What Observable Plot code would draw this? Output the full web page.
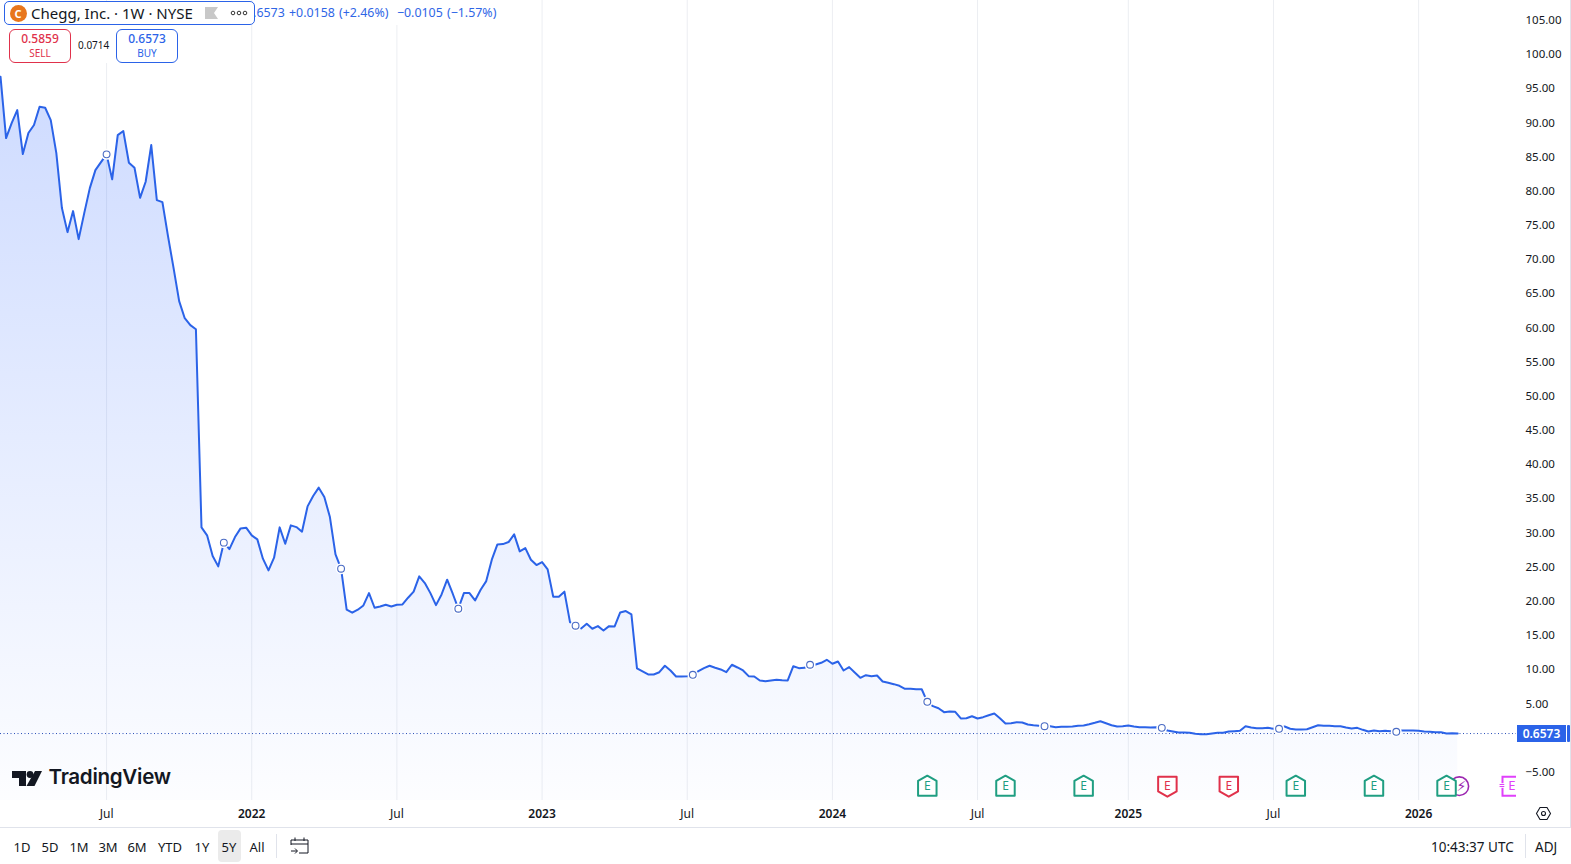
<!DOCTYPE html>
<html>
<head>
<meta charset="utf-8">
<title>Chegg, Inc. 1W NYSE</title>
<script src="https://cdn.jsdelivr.net/npm/d3@7"></script>
<script src="https://cdn.jsdelivr.net/npm/@observablehq/plot@0.6"></script>
<style>
  html,body{margin:0;padding:0;background:#fff;overflow:hidden;}
  body{width:1571px;height:864px;position:relative;font-family:"Noto Sans",sans-serif;color:#131722;}
  #chart{position:absolute;left:0;top:0;}
  .abs{position:absolute;white-space:nowrap;}
  .box{position:absolute;box-sizing:border-box;background:#fff;text-align:center;border-radius:6px;border:1px solid;}
  .box b{display:block;font-weight:500;font-size:12px;line-height:13px;margin-top:2px;}
  .box span{display:block;font-size:10px;line-height:12px;margin-top:2px;}
  .tool{position:absolute;top:837px;font-size:13px;line-height:20px;transform:translateX(-50%);color:#131722;}
</style>
</head>
<body>
<div id="chart"></div>
<div class="abs" style="left:255px;top:0;width:245px;height:25px;background:#fff"></div>
<div class="abs" style="left:0;top:25px;width:180px;height:38px;background:#fff"></div>
<div class="abs" id="quote" style="left:246px;top:4px;font-size:12.4px;line-height:18px;color:#2f66e6;word-spacing:1px">0.6573 +0.0158 (+2.46%)&nbsp; −0.0105 (−1.57%)</div>
<div class="abs" style="left:4px;top:1px;width:251px;height:24px;box-sizing:border-box;background:#fff;border:1px solid #2b63e8;border-radius:5px"></div>
<div class="abs" style="left:9.5px;top:4.5px;width:17px;height:17px;border-radius:50%;background:#e8761c;color:#fff;font-size:11px;font-weight:700;line-height:17px;text-align:center">C</div>
<div class="abs" id="name" style="left:31px;top:3px;font-size:15px;line-height:21px">Chegg, Inc. · 1W · NYSE</div>
<svg class="abs" style="left:204px;top:6px" width="46" height="14">
  <path d="M1 1H14L10 7L14 13H1Z" fill="#c8c8c8"/>
  <circle cx="29" cy="7" r="1.8" fill="none" stroke="#333"/><circle cx="35" cy="7" r="1.8" fill="none" stroke="#333"/><circle cx="41" cy="7" r="1.8" fill="none" stroke="#333"/>
</svg>
<div class="box" style="left:9px;top:29px;width:62px;height:34px;border-color:#e0314b;color:#e0314b"><b>0.5859</b><span>SELL</span></div>
<div class="abs" style="left:78px;top:38px;font-size:10px;line-height:15px">0.0714</div>
<div class="box" style="left:116px;top:29px;width:62px;height:34px;border-color:#2b63e8;color:#2b63e8"><b>0.6573</b><span>BUY</span></div>

<svg class="abs" style="left:12px;top:770px" width="31" height="17" viewBox="0 0 31 17">
  <path d="M0 1H14V16H7V8H0Z" fill="#131722"/><circle cx="18" cy="4.5" r="3.4" fill="#131722"/><path d="M23 1H30L22.5 16H14.5Z" fill="#131722"/>
</svg>
<div class="abs" id="tv" style="left:48.5px;top:762px;font-family:Inter,sans-serif;font-weight:600;font-size:20.6px;line-height:30px;letter-spacing:-.3px">TradingView</div>

<div class="abs" style="left:1517px;top:725px;width:49px;height:17px;background:#2b63e8;color:#fff;font-size:12px;line-height:17px;font-weight:600;text-align:center">0.6573</div>
<div class="abs" style="left:1567px;top:725px;width:3px;height:17px;background:#2b63e8;border-radius:1px"></div>
<div class="abs" style="left:1570px;top:0;width:1px;height:827px;background:#e0e3eb"></div>
<svg class="abs" style="left:1534px;top:804px" width="19" height="19" viewBox="0 0 19 19" fill="none" stroke="#131722" stroke-width="1.1">
  <path d="M6 3.5H13L16.5 9.5L13 15.5H6L2.5 9.5Z"/><circle cx="9.5" cy="9.5" r="2"/>
</svg>

<div class="abs" style="left:0;top:827px;width:1571px;height:1px;background:#e0e3eb"></div>
<div class="abs" style="left:218px;top:830px;width:23px;height:32px;border-radius:4px;background:#ebebeb"></div>
<div id="toolbar"></div>
<div class="abs" style="left:276px;top:834px;width:1px;height:24px;background:#e0e3eb"></div>
<svg class="abs" style="left:290px;top:836px" width="20" height="20" viewBox="0 0 20 20" fill="none" stroke="#131722" stroke-width="1">
  <path d="M1 9V4H18V17H9M1 8H18M5 1.5V5M14 1.5V5M1 15H7M5 12.5L7.5 15L5 17.5"/>
</svg>
<div class="abs" style="left:1431px;top:837px;font-size:13.5px;line-height:20px">10:43:37 UTC</div>
<div class="abs" style="left:1525px;top:834px;width:1px;height:24px;background:#e0e3eb"></div>
<div class="abs" style="left:1535px;top:837px;font-size:13.5px;line-height:20px">ADJ</div>

<script>
// Weekly closes, first bar in the week of 22 Feb 2021
const firstWeek = "2021-02-22";
const closes = [
96.75,87.77,89.97,91.87,85.43,88.51,89.68,92.36,92.21,90.41,85.58,77.53,74.01,77.09,72.99,76.79,80.45,83.09,84.26,85.39,
81.73,88.21,88.80,84.16,83.43,79.03,81.38,86.75,78.70,78.40,73.43,68.74,63.91,61.42,60.40,59.81,30.82,29.65,26.62,25.11,
28.58,27.64,29.40,30.67,30.78,29.65,29.06,26.24,24.52,26.38,30.82,28.43,31.11,30.86,30.19,33.89,35.40,36.63,35.26,32.33,
26.87,24.77,18.77,18.33,18.77,19.40,21.20,19.06,19.25,19.50,19.25,19.50,19.55,20.53,21.41,23.65,22.67,21.20,19.44,21.01,
23.16,21.11,18.92,21.20,21.20,20.13,21.70,22.96,26.09,28.33,28.37,28.67,29.80,27.31,27.79,26.09,25.30,25.74,24.67,20.67,
20.67,21.41,16.95,16.43,16.03,16.72,15.99,16.37,15.74,16.37,16.33,18.37,18.57,18.08,10.18,9.74,9.30,9.30,9.63,10.57,
9.88,9.00,9.00,9.05,9.25,9.78,10.22,10.57,10.28,10.03,9.63,10.72,10.32,9.88,9.05,9.00,8.42,8.32,8.42,8.52,
8.46,8.42,10.51,10.22,10.28,10.72,10.76,11.01,11.45,10.86,11.20,9.88,10.37,9.59,8.81,9.19,9.05,9.15,8.27,8.08,
7.88,7.64,7.20,7.20,7.14,7.14,5.30,4.66,4.36,3.78,3.88,3.84,2.86,2.90,3.19,2.86,3.05,3.34,3.59,2.90,
2.12,2.17,2.31,2.27,1.98,1.87,1.79,1.73,1.73,1.58,1.64,1.64,1.68,1.79,1.83,2.02,2.23,2.46,2.17,1.87,
1.68,1.73,1.83,1.68,1.58,1.58,1.54,1.58,1.49,1.10,0.95,0.81,0.81,0.76,0.61,0.56,0.56,0.66,0.76,0.76,
0.95,1.00,1.05,1.73,1.54,1.43,1.43,1.49,1.35,1.35,1.68,1.35,1.24,1.24,1.29,1.58,1.87,1.79,1.79,1.73,
1.73,1.54,1.39,1.49,1.20,0.95,1.10,1.00,1.05,1.00,0.91,1.10,1.10,1.10,1.05,0.95,0.91,0.85,0.85,0.66,0.70,0.6573];
const lastPrice = 0.6573;
const markerWeeks = [19,40,61,82,103,124,145,166,187,208,229,250];
const julyTicks = ["2021-07-05","2022-07-04","2023-07-03","2024-07-01","2025-07-07"];
const yearTicks = ["2022-01-03","2023-01-02","2024-01-01","2025-01-06","2026-01-05"];
const yTicks = [-5,5,10,15,20,25,30,35,40,45,50,55,60,65,70,75,80,85,90,95,100,105];
const beatDates = ["2024-04-29","2024-08-05","2024-11-11","2025-08-04","2025-11-10","2026-02-09"];
const missDates = ["2025-02-24","2025-05-12"];
const flashDate = ["2026-02-25"];
const upcomingDate = ["2026-05-02"];
const eventLevel = -7.05;
const toolbarItems = [["1D",22],["5D",50],["1M",79],["3M",108],["6M",137],["YTD",170],["1Y",202],["5Y",229],["All",257]];

const BLUE = "#2b63e8", GREEN = "#1f9e82", RED = "#e0314b", GRID = "#eceef2", PURPLE = "#9c27b0", PINK = "#e040fb";
const toDate = s => new Date(s + "T00:00:00Z");
const start = toDate(firstWeek);
const rows = closes.map((v, i) => ({date: d3.utcDay.offset(start, i * 7), v}));
const markers = markerWeeks.map(i => rows[i]);
const gridDates = [...julyTicks, ...yearTicks].map(toDate);
const events = a => a.map(s => ({date: toDate(s), v: eventLevel}));

const houseUp = {draw(c, size){ const r = Math.sqrt(size / Math.PI);
  c.moveTo(0, -r); c.lineTo(r*.88, -r*.5); c.lineTo(r*.88, r*.9); c.lineTo(-r*.88, r*.9); c.lineTo(-r*.88, -r*.5); c.closePath(); }};
const houseDown = {draw(c, size){ const r = Math.sqrt(size / Math.PI);
  c.moveTo(0, r); c.lineTo(r*.88, r*.5); c.lineTo(r*.88, -r*.9); c.lineTo(-r*.88, -r*.9); c.lineTo(-r*.88, r*.5); c.closePath(); }};
const box = {draw(c, size){ const r = Math.sqrt(size / Math.PI);
  c.rect(-r*.9, -r*.9, r*1.8, r*1.8); }};

const gradient = () => {
  const ns = "http://www.w3.org/2000/svg";
  const defs = document.createElementNS(ns, "defs");
  defs.innerHTML = `<linearGradient id="fade" gradientUnits="userSpaceOnUse" x1="0" y1="76" x2="0" y2="800">
    <stop offset="0" stop-color="#2962ff" stop-opacity="0.23"/><stop offset="1" stop-color="#2962ff" stop-opacity="0.012"/></linearGradient>`;
  return defs;
};

const fmtY = d3.format(".2f");
const chart = Plot.plot({
  width: 1571, height: 827,
  marginLeft: 0, marginRight: 55, marginTop: 0, marginBottom: 27,
  style: {fontFamily: '"Noto Sans", sans-serif', fontSize: "11.5px", color: "#131722", background: "transparent"},
  x: {type: "utc", domain: [start, new Date("2026-05-07T17:00:00Z")], axis: null},
  y: {domain: [-9.14, 107.9], axis: null},
  marks: [
    gradient,
    Plot.ruleX(gridDates, {x: d => d, stroke: GRID, strokeWidth: 1}),
    Plot.areaY(rows, {x: "date", y1: -9.14, y2: "v", fill: "url(#fade)", curve: "linear"}),
    Plot.ruleY([lastPrice], {stroke: "#2b4fb8", strokeWidth: 1, strokeDasharray: "1 2.5"}),
    Plot.lineY(rows, {x: "date", y: "v", stroke: BLUE, strokeWidth: 2, curve: "linear", strokeLinejoin: "round"}),
    Plot.dot(markers, {x: "date", y: "v", r: 5.5, fill: "#fff", stroke: "none"}),
    Plot.dot(markers, {x: "date", y: "v", r: 3.4, fill: "#fff", stroke: "#4a6bc4", strokeWidth: 1.1}),
    Plot.dot(events(flashDate), {x: "date", y: "v", r: 9.3, fill: "#fff", stroke: PURPLE, strokeWidth: 1.6}),
    Plot.text(events(flashDate), {x: "date", y: "v", text: () => "⚡", fill: PURPLE, fontSize: 14, dx: 2, fontFamily: "DejaVu Sans"}),
    Plot.dot(events(beatDates), {x: "date", y: "v", r: 10.5, symbol: houseUp, fill: "#fff", stroke: GREEN, strokeWidth: 2, strokeLinejoin: "round"}),
    Plot.text(events(beatDates), {x: "date", y: "v", text: () => "E", fill: GREEN, fontSize: 12}),
    Plot.dot(events(missDates), {x: "date", y: "v", r: 10.5, symbol: houseDown, fill: "#fff", stroke: RED, strokeWidth: 2, strokeLinejoin: "round"}),
    Plot.text(events(missDates), {x: "date", y: "v", text: () => "E", fill: RED, fontSize: 12}),
    Plot.dot(events(upcomingDate), {x: "date", y: "v", r: 10.5, symbol: box, fill: "#fff", stroke: PINK, strokeWidth: 2, clip: true}),
    Plot.text(events(upcomingDate), {x: "date", y: "v", text: () => "E", fill: PINK, fontSize: 13, clip: true}),
    Plot.text(events(upcomingDate), {x: "date", y: "v", text: () => "=", fill: PINK, fontSize: 10, dx: -10, stroke: "#fff", strokeWidth: 1.5, paintOrder: "stroke"}),
    Plot.axisY(yTicks, {anchor: "right", tickSize: 0, tickPadding: 9, tickFormat: fmtY, label: null}),
    Plot.axisX(julyTicks.map(toDate), {anchor: "bottom", tickSize: 0, tickPadding: 9, tickFormat: () => "Jul", fontSize: 12, label: null}),
    Plot.axisX(yearTicks.map(toDate), {anchor: "bottom", tickSize: 0, tickPadding: 9, tickFormat: d => d3.utcFormat("%Y")(d), fontWeight: 600, fontSize: 12, label: null})
  ]
});
document.getElementById("chart").appendChild(chart);

const tb = document.getElementById("toolbar");
for (const [label, x] of toolbarItems) {
  const el = document.createElement("div");
  el.className = "tool"; el.style.left = x + "px"; el.textContent = label;
  tb.appendChild(el);
}
</script>
</body>
</html>
